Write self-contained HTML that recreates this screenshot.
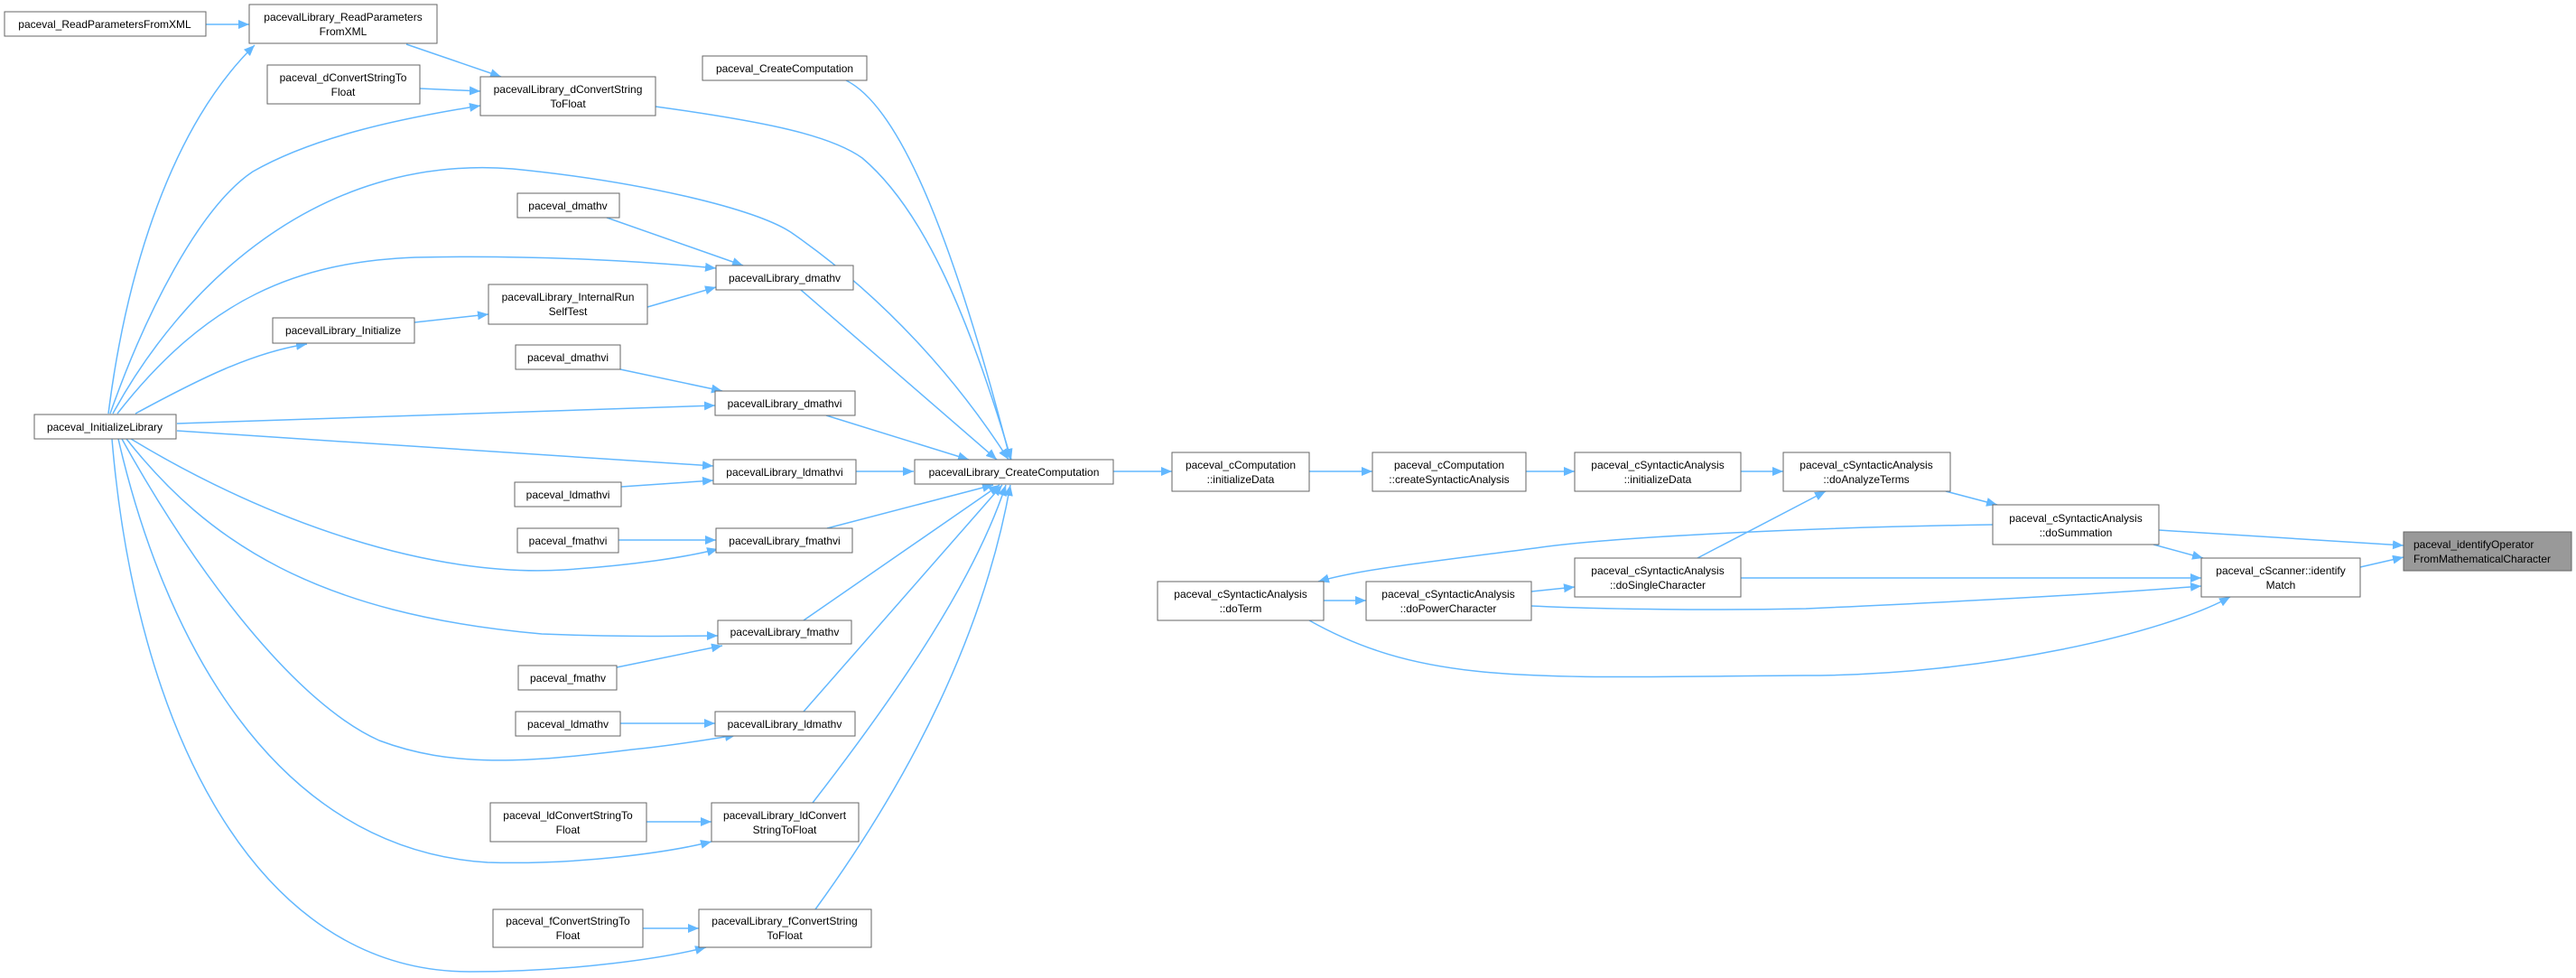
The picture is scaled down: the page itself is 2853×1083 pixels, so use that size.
<!DOCTYPE html>
<html><head><meta charset="utf-8"><style>
html,body{margin:0;padding:0;background:#fff;width:2853px;height:1083px;overflow:hidden}
svg text{font-family:"Liberation Sans",Arial,sans-serif;font-size:12px;fill:#000}
</style></head><body>
<svg width="2853" height="1083" viewBox="0 0 2853 1083" xmlns="http://www.w3.org/2000/svg">
<defs>
<marker id="a" markerUnits="userSpaceOnUse" markerWidth="14" markerHeight="12" refX="12" refY="5" orient="auto">
<path d="M0,0 L12,5 L0,10 Z" fill="#63b8ff"/>
</marker>
</defs>
<g fill="none" stroke="#63b8ff" stroke-width="1.5" marker-end="url(#a)">
<path d="M228,27 L276,27"/>
<path d="M450,49 L555,85"/>
<path d="M465,98 L532,101"/>
<path d="M120,458 C140,300 190,140 282,50"/>
<path d="M122,458 C160,350 220,230 280,190 C350,150 450,130 532,117"/>
<path d="M125,458 C200,320 350,170 568,187 C700,200 840,230 880,260 C980,330 1060,420 1117,509"/>
<path d="M130,458 C230,330 330,290 460,285 C600,282 720,290 793,297"/>
<path d="M150,458 C220,420 280,390 340,381"/>
<path d="M459,357 L541,348"/>
<path d="M717,340 L793,318"/>
<path d="M672,241 L823,294"/>
<path d="M887,321 L1104,509"/>
<path d="M687,409 L800,433"/>
<path d="M196,469 L792,449"/>
<path d="M915,460 L1073,509"/>
<path d="M196,477 L790,516"/>
<path d="M948,522 L1012,522"/>
<path d="M688,539 L790,532"/>
<path d="M145,486 C300,580 480,640 625,631 C700,626 760,617 795,608"/>
<path d="M685,598 L793,598"/>
<path d="M916,585 L1100,537"/>
<path d="M140,486 C230,600 350,680 600,702 C700,706 760,704 795,704"/>
<path d="M890,687 L1107,537"/>
<path d="M683,739 L800,715"/>
<path d="M135,486 C220,640 330,780 420,820 C500,850 580,845 700,830 C750,825 790,818 815,814"/>
<path d="M687,801 L792,801"/>
<path d="M890,788 L1110,537"/>
<path d="M131,486 C180,700 300,940 540,955 C640,958 740,944 788,932"/>
<path d="M716,910 L788,910"/>
<path d="M900,889 C1000,760 1080,640 1114,537"/>
<path d="M124,486 C150,800 280,1076 520,1076 C640,1076 740,1060 782,1049"/>
<path d="M712,1028 L774,1028"/>
<path d="M903,1007 C1010,860 1090,700 1119,537"/>
<path d="M937,89 C1000,120 1060,280 1119,509"/>
<path d="M726,118 C850,135 920,150 955,175 C1020,230 1070,340 1120,509"/>
<path d="M1233,522 L1298,522"/>
<path d="M1450,522 L1520,522"/>
<path d="M1690,522 L1744,522"/>
<path d="M1928,522 L1975,522"/>
<path d="M2155,544 L2212,559"/>
<path d="M1880,618 L2022,544"/>
<path d="M2207,581 C2000,584 1780,595 1700,607 C1560,625 1500,632 1460,644"/>
<path d="M2391,587 L2662,604"/>
<path d="M2385,603 L2440,618"/>
<path d="M2614,628 L2662,617"/>
<path d="M1466,665 L1513,665"/>
<path d="M1696,655 L1744,650"/>
<path d="M1928,640 L2438,640"/>
<path d="M1696,671 C1780,675 1900,676 2000,674 C2200,665 2350,656 2438,649"/>
<path d="M1450,687 C1580,760 1700,750 2000,748 C2200,748 2400,700 2470,661"/>
</g>
<g stroke="#666" stroke-width="1" fill="#fff">
<rect x="5" y="13" width="223" height="27"/>
<rect x="276" y="5" width="208" height="43"/>
<rect x="296" y="72" width="169" height="43"/>
<rect x="532" y="85" width="194" height="43"/>
<rect x="778" y="62" width="182" height="27"/>
<rect x="573" y="214" width="113" height="27"/>
<rect x="793" y="294" width="152" height="27"/>
<rect x="541" y="315" width="176" height="44"/>
<rect x="302" y="352" width="157" height="28"/>
<rect x="571" y="382" width="116" height="27"/>
<rect x="792" y="433" width="155" height="27"/>
<rect x="38" y="459" width="157" height="27"/>
<rect x="790" y="509" width="158" height="27"/>
<rect x="570" y="534" width="118" height="27"/>
<rect x="573" y="585" width="112" height="27"/>
<rect x="793" y="585" width="151" height="27"/>
<rect x="795" y="687" width="148" height="26"/>
<rect x="574" y="737" width="109" height="27"/>
<rect x="571" y="788" width="116" height="27"/>
<rect x="792" y="788" width="155" height="27"/>
<rect x="543" y="889" width="173" height="43"/>
<rect x="788" y="889" width="163" height="43"/>
<rect x="546" y="1007" width="166" height="42"/>
<rect x="774" y="1007" width="191" height="42"/>
<rect x="1013" y="509" width="220" height="27"/>
<rect x="1298" y="501" width="152" height="43"/>
<rect x="1520" y="501" width="170" height="43"/>
<rect x="1744" y="501" width="184" height="43"/>
<rect x="1975" y="501" width="185" height="43"/>
<rect x="2207" y="559" width="184" height="44"/>
<rect x="1282" y="644" width="184" height="43"/>
<rect x="1513" y="644" width="183" height="43"/>
<rect x="1744" y="618" width="184" height="43"/>
<rect x="2438" y="618" width="176" height="43"/>
<rect x="2662" y="589" width="186" height="43" fill="#999"/>
</g>
<g text-anchor="middle">
<text x="116" y="31">paceval_ReadParametersFromXML</text>
<text x="380" y="23">pacevalLibrary_ReadParameters</text><text x="380" y="39">FromXML</text>
<text x="380" y="90">paceval_dConvertStringTo</text><text x="380" y="106">Float</text>
<text x="629" y="103">pacevalLibrary_dConvertString</text><text x="629" y="119">ToFloat</text>
<text x="869" y="80">paceval_CreateComputation</text>
<text x="629" y="232">paceval_dmathv</text>
<text x="869" y="312">pacevalLibrary_dmathv</text>
<text x="629" y="333">pacevalLibrary_InternalRun</text><text x="629" y="349">SelfTest</text>
<text x="380" y="370">pacevalLibrary_Initialize</text>
<text x="629" y="400">paceval_dmathvi</text>
<text x="869" y="451">pacevalLibrary_dmathvi</text>
<text x="116" y="477">paceval_InitializeLibrary</text>
<text x="869" y="527">pacevalLibrary_ldmathvi</text>
<text x="629" y="552">paceval_ldmathvi</text>
<text x="629" y="603">paceval_fmathvi</text>
<text x="869" y="603">pacevalLibrary_fmathvi</text>
<text x="869" y="704">pacevalLibrary_fmathv</text>
<text x="629" y="755">paceval_fmathv</text>
<text x="629" y="806">paceval_ldmathv</text>
<text x="869" y="806">pacevalLibrary_ldmathv</text>
<text x="629" y="907">paceval_ldConvertStringTo</text><text x="629" y="923">Float</text>
<text x="869" y="907">pacevalLibrary_ldConvert</text><text x="869" y="923">StringToFloat</text>
<text x="629" y="1024">paceval_fConvertStringTo</text><text x="629" y="1040">Float</text>
<text x="869" y="1024">pacevalLibrary_fConvertString</text><text x="869" y="1040">ToFloat</text>
<text x="1123" y="527">pacevalLibrary_CreateComputation</text>
<text x="1374" y="519">paceval_cComputation</text><text x="1374" y="535">::initializeData</text>
<text x="1605" y="519">paceval_cComputation</text><text x="1605" y="535">::createSyntacticAnalysis</text>
<text x="1836" y="519">paceval_cSyntacticAnalysis</text><text x="1836" y="535">::initializeData</text>
<text x="2067" y="519">paceval_cSyntacticAnalysis</text><text x="2067" y="535">::doAnalyzeTerms</text>
<text x="2299" y="578">paceval_cSyntacticAnalysis</text><text x="2299" y="594">::doSummation</text>
<text x="1374" y="662">paceval_cSyntacticAnalysis</text><text x="1374" y="678">::doTerm</text>
<text x="1604" y="662">paceval_cSyntacticAnalysis</text><text x="1604" y="678">::doPowerCharacter</text>
<text x="1836" y="636">paceval_cSyntacticAnalysis</text><text x="1836" y="652">::doSingleCharacter</text>
<text x="2526" y="636">paceval_cScanner::identify</text><text x="2526" y="652">Match</text>
</g>
<text x="2673" y="607">paceval_identifyOperator</text><text x="2673" y="623">FromMathematicalCharacter</text>
</svg>
</body></html>
